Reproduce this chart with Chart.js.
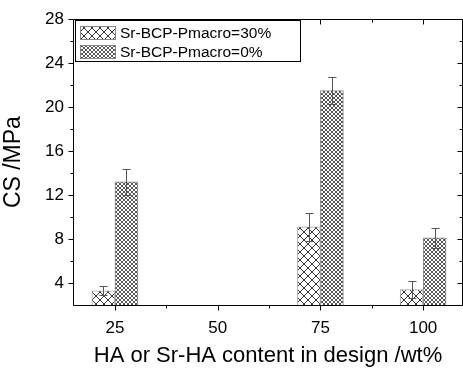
<!DOCTYPE html>
<html>
<head>
<meta charset="utf-8">
<script src="https://cdn.jsdelivr.net/npm/chart.js@4/dist/chart.umd.min.js"></script>
<style>
html,body{margin:0;padding:0;background:#fff;}
canvas{display:block;}
</style>
</head>
<body>
<canvas id="c" width="463" height="372"></canvas>
<script>
// ---- data ----
const categories = [25, 50, 75, 100];
const seriesNames = ['Sr-BCP-Pmacro=30%', 'Sr-BCP-Pmacro=0%'];
const cs30 = [3.3, null, 9.1, 3.4];
const err30 = [0.4, null, 1.3, 0.8];
const cs0 = [13.2, null, 21.5, 8.1];
const err0 = [1.2, null, 1.2, 0.95];
const yTickValues = [4, 8, 12, 16, 20, 24, 28];
const yMinorValues = [6, 10, 14, 18, 22, 26];
const xTickValues = [25, 50, 75, 100];
const xMinorValues = [37.5, 62.5, 87.5];
const xTitle = 'HA or Sr-HA content in design /wt%';
const yTitle = 'CS /MPa';

const Y_MIN = 2, Y_MAX = 28;
const X_MIN = 14.8, X_MAX = 109.7;
const FONT = '"Liberation Sans", Arial, sans-serif';

function makePattern(period, color, lw) {
  const c = document.createElement('canvas');
  c.width = period; c.height = period;
  const g = c.getContext('2d');
  g.fillStyle = '#fff';
  g.fillRect(0, 0, period, period);
  g.strokeStyle = color;
  g.lineWidth = lw;
  g.beginPath();
  g.moveTo(-1, -1); g.lineTo(period + 1, period + 1);
  g.moveTo(-1, period + 1); g.lineTo(period + 1, -1);
  g.stroke();
  return document.getElementById('c').getContext('2d').createPattern(c, 'repeat');
}
const patSparse = makePattern(8, '#333', 1);
const patDense = makePattern(4, '#555', 1);

function toPoints(vals, errs) {
  const pts = [], e = [];
  categories.forEach((c, i) => {
    if (vals[i] !== null) { pts.push({x: c, y: vals[i]}); e.push(errs[i]); }
  });
  return {pts, e};
}
const d30 = toPoints(cs30, err30);
const d0 = toPoints(cs0, err0);

const errorBarPlugin = {
  id: 'errorBars',
  afterDatasetsDraw(chart) {
    const ctx = chart.ctx, ys = chart.scales.y;
    ctx.save();
    ctx.strokeStyle = '#555';
    ctx.lineWidth = 1;
    chart.data.datasets.forEach((ds, di) => {
      const meta = chart.getDatasetMeta(di);
      meta.data.forEach((bar, j) => {
        const v = ds.data[j].y, e = ds.errors[j];
        const x = Math.round(bar.x) + 0.5;
        const yt = Math.round(ys.getPixelForValue(v + e)) + 0.5;
        const yb = Math.round(ys.getPixelForValue(v - e)) + 0.5;
        ctx.beginPath();
        ctx.moveTo(x, yt); ctx.lineTo(x, yb);
        ctx.moveTo(x - 4, yt); ctx.lineTo(x + 4, yt);
        ctx.moveTo(x - 4, yb); ctx.lineTo(x + 4, yb);
        ctx.stroke();
      });
    });
    ctx.restore();
  }
};

const framePlugin = {
  id: 'frame',
  afterDraw(chart) {
    const ctx = chart.ctx, a = chart.chartArea;
    const xs = chart.scales.x, ys = chart.scales.y;
    const L = Math.round(a.left) + 0.5, R = Math.round(a.right) - 0.5;
    const T = Math.round(a.top) + 0.5, B = Math.round(a.bottom) + 0.5;
    ctx.save();
    ctx.strokeStyle = '#000';
    ctx.lineWidth = 1;
    ctx.beginPath();
    ctx.moveTo(L, T); ctx.lineTo(R, T); ctx.lineTo(R, B); ctx.lineTo(L, B); ctx.closePath();
    yTickValues.concat(yMinorValues).forEach(v => {
      const len = yTickValues.includes(v) ? 5 : 3;
      const y = Math.round(ys.getPixelForValue(v)) + 0.5;
      ctx.moveTo(L, y); ctx.lineTo(L - len, y);
      ctx.moveTo(R, y); ctx.lineTo(R - len, y);
    });
    xTickValues.concat(xMinorValues).forEach(v => {
      const len = xTickValues.includes(v) ? 5 : 3;
      const x = Math.round(xs.getPixelForValue(v)) + 0.5;
      ctx.moveTo(x, B); ctx.lineTo(x, B + len);
      ctx.moveTo(x, T); ctx.lineTo(x, T + len);
    });
    ctx.stroke();

    // legend
    const lx = 75.5, ly = 20.5, lw = 225, lh = 41;
    ctx.fillStyle = '#fff';
    ctx.fillRect(lx, ly, lw, lh);
    ctx.strokeRect(lx, ly, lw, lh);
    const pats = [patSparse, patDense];
    const rows = [33, 52];
    ctx.font = '15.5px ' + FONT;
    ctx.textBaseline = 'middle';
    ctx.textAlign = 'left';
    seriesNames.forEach((name, i) => {
      const sy = rows[i] - 6;
      ctx.fillStyle = pats[i];
      ctx.fillRect(81, sy, 34, 12);
      ctx.strokeStyle = '#888';
      ctx.strokeRect(80.5, sy - 0.5, 35, 13);
      ctx.fillStyle = '#000';
      ctx.fillText(name, 120, rows[i] + 1);
    });
    ctx.restore();
  }
};

new Chart(document.getElementById('c'), {
  type: 'bar',
  data: {
    datasets: [
      {label: seriesNames[0], data: d30.pts, errors: d30.e, backgroundColor: patSparse,
       borderColor: '#aaa', borderWidth: 1, base: Y_MIN},
      {label: seriesNames[1], data: d0.pts, errors: d0.e, backgroundColor: patDense,
       borderColor: '#888', borderWidth: 1, base: Y_MIN}
    ]
  },
  options: {
    responsive: false,
    animation: false,
    devicePixelRatio: 1,
    layout: {padding: {top: 18, right: 0, left: 0, bottom: 0}},
    datasets: {bar: {barThickness: 23, grouped: true}},
    plugins: {legend: {display: false}, tooltip: {enabled: false}},
    scales: {
      x: {
        type: 'linear', min: X_MIN, max: X_MAX, offset: false,
        afterBuildTicks: s => { s.ticks = xTickValues.map(v => ({value: v})); },
        afterFit: s => { s.height = 67; },
        grid: {display: false, drawTicks: false, offset: false},
        border: {display: false},
        ticks: {font: {family: FONT, size: 17}, color: '#000', padding: 13, maxRotation: 0,
                callback: v => String(v)},
        title: {display: true, text: xTitle, font: {family: FONT, size: 22}, color: '#000',
                padding: {top: 0, bottom: 3}}
      },
      y: {
        type: 'linear', min: Y_MIN, max: Y_MAX,
        afterBuildTicks: s => { s.ticks = yTickValues.map(v => ({value: v})); },
        afterFit: s => { s.width = 73; },
        grid: {display: false, drawTicks: false},
        border: {display: false},
        ticks: {font: {family: FONT, size: 17}, color: '#000', padding: 9,
                callback: v => String(v)},
        title: {display: true, text: yTitle, font: {family: FONT, size: 23}, color: '#000',
                padding: {top: 0, bottom: 0}}
      }
    }
  },
  plugins: [errorBarPlugin, framePlugin]
});
</script>
</body>
</html>
